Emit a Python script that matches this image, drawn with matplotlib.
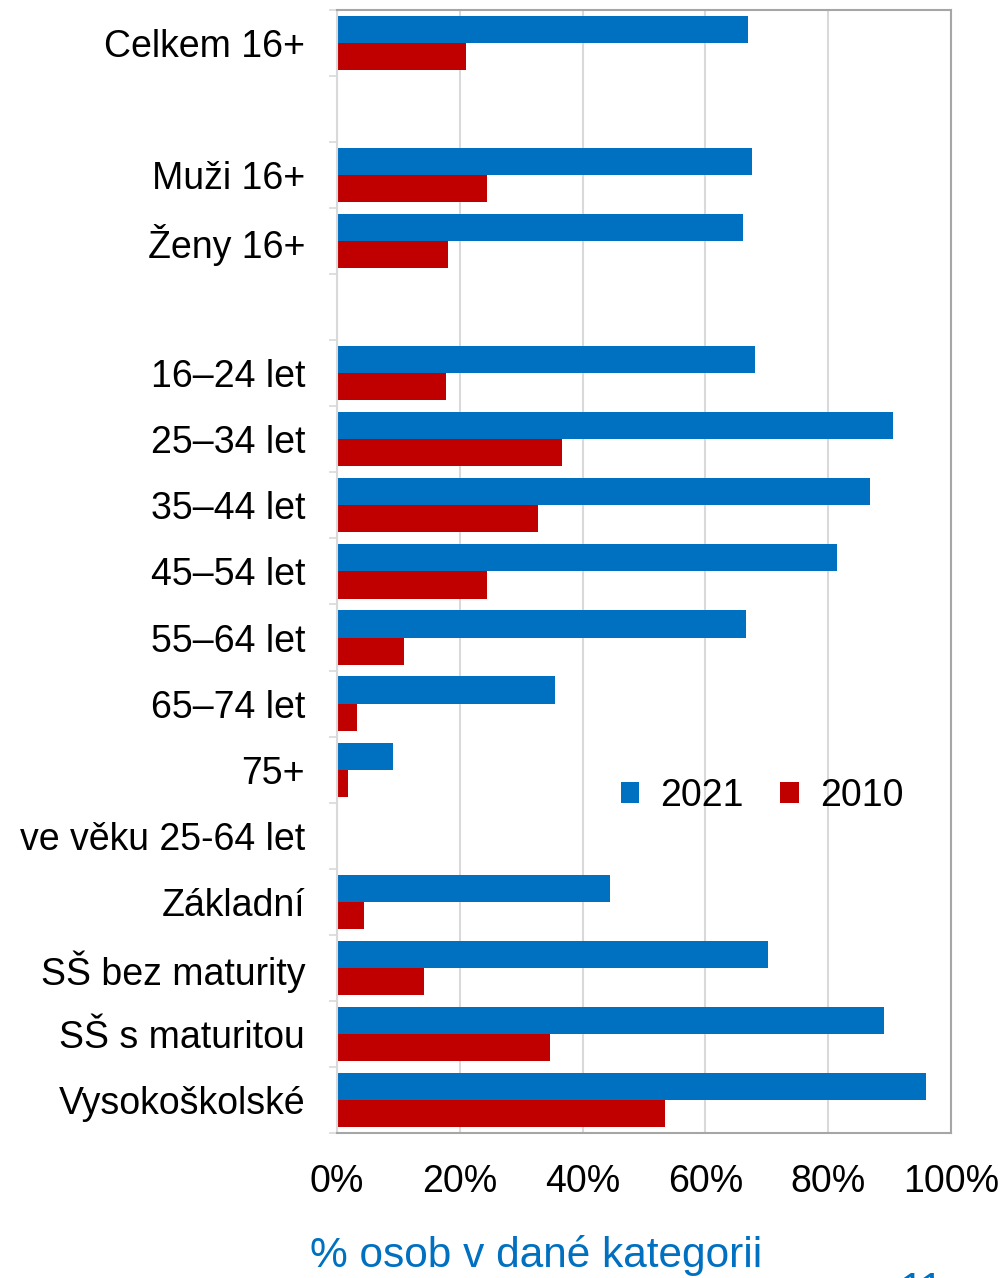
import numpy as np
import matplotlib.pyplot as plt
from matplotlib.ticker import FixedLocator, PercentFormatter

plt.rcParams['font.family'] = ['Liberation Sans', 'DejaVu Sans']

categories = ['Celkem 16+', '', 'Muži 16+', 'Ženy 16+', '',
              '16–24 let', '25–34 let', '35–44 let', '45–54 let', '55–64 let',
              '65–74 let', '75+', 've věku 25-64 let',
              'Základní', 'SŠ bez maturity', 'SŠ s maturitou', 'Vysokoškolské']
val_2021 = [66.9, np.nan, 67.6, 66.1, np.nan,
            68.1, 90.6, 86.8, 81.4, 66.6, 35.5, 9.1, np.nan,
            44.5, 70.2, 89.1, 95.9]
val_2010 = [21.0, np.nan, 24.4, 18.1, np.nan,
            17.8, 36.6, 32.7, 24.4, 10.9, 3.3, 1.8, np.nan,
            4.4, 14.2, 34.7, 53.4]

BLUE = '#0070C0'
RED = '#C00000'
GRID = '#D9D9D9'
FS = 27

fig = plt.figure(figsize=(10.04, 12.78), dpi=100)
ax = fig.add_axes([0.3357, 0.1135, 0.6115, 0.8787])

y = np.arange(len(categories))
h = 0.41
ax.barh(y - h / 2, val_2021, height=h, color=BLUE, label='2021')
ax.barh(y + h / 2, val_2010, height=h, color=RED, label='2010')

ax.set_ylim(len(categories) - 0.5, -0.5)
ax.set_xlim(0, 100)
ax.set_xticks([0, 20, 40, 60, 80, 100])
ax.xaxis.set_major_formatter(PercentFormatter(decimals=0))
ax.set_yticks(y)
ax.set_yticklabels(categories)
ax.yaxis.set_minor_locator(FixedLocator(np.arange(-0.5, len(categories), 1)))

ax.tick_params(axis='x', length=0, pad=22, labelsize=FS)
ax.tick_params(axis='y', which='major', length=0, pad=23, labelsize=FS)
ax.tick_params(axis='y', which='minor', length=6, width=1.2, color=GRID)

ax.grid(axis='x', color=GRID, linewidth=1.5)
ax.set_axisbelow(True)
for side in ['top', 'right', 'bottom']:
    ax.spines[side].set_color('#A6A6A6')
    ax.spines[side].set_linewidth(1.5)
ax.spines['left'].set_color(GRID)
ax.spines['left'].set_linewidth(1.5)

ax.legend(loc='center', bbox_to_anchor=(0.692, 0.300), ncol=2, frameon=False,
          fontsize=FS, handlelength=0.5, handleheight=0.5,
          handletextpad=0.55, columnspacing=0.98)

fig.text(310 / 1004, 1 - 1267 / 1278, '% osob v dané kategorii',
         color=BLUE, fontsize=30.5, ha='left', va='baseline')
# page number, cut off by the bottom edge as in the source slide
fig.text(922 / 1004, 1 - 1302 / 1278, '11', color=BLUE, fontsize=30.5,
         ha='center', va='baseline')

fig.savefig('out.png', dpi=100)
